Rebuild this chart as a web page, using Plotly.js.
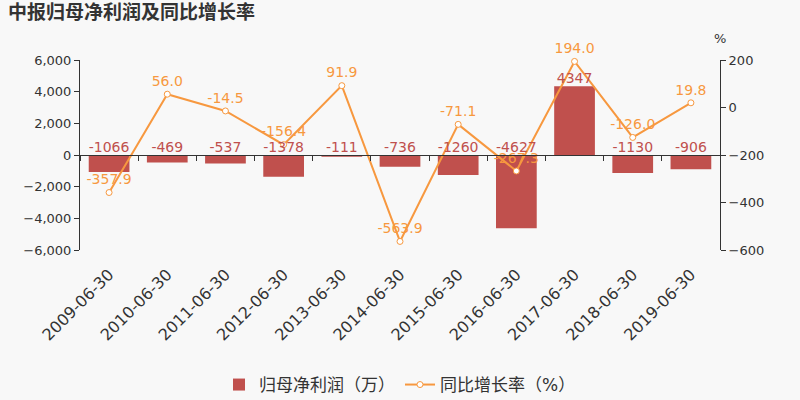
<!DOCTYPE html>
<html>
<head>
<meta charset="utf-8">
<script src="https://cdn.plot.ly/plotly-3.0.1.min.js"></script>
<style>html,body{margin:0;padding:0;background:#f8f8f8;}#chart{width:800px;height:400px;}</style>
</head>
<body>
<div id="chart"></div>
<script>
const categories = ['2009-06-30','2010-06-30','2011-06-30','2012-06-30','2013-06-30','2014-06-30','2015-06-30','2016-06-30','2017-06-30','2018-06-30','2019-06-30'];
const profit = [-1066, -469, -537, -1378, -111, -736, -1260, -4627, 4347, -1130, -906];
const growth = [-357.9, 56.0, -14.5, -156.4, 91.9, -563.9, -71.1, -267.3, 194.0, -126.0, 19.8];
const leftTicks = [-6000, -4000, -2000, 0, 2000, 4000, 6000];
const rightTicks = [-600, -400, -200, 0, 200];

const FONT = 'DejaVu Sans, Noto Sans CJK SC, sans-serif';
const RED = '#c0504d';
const ORANGE = '#f7983f';

const traces = [
  {
    type: 'bar', name: '归母净利润（万）', x: categories, y: profit,
    xaxis: 'x', yaxis: 'y', width: 0.7,
    marker: {color: RED}, hoverinfo: 'x+y'
  },
  {
    type: 'scatter', mode: 'text', x: categories, y: profit.map(v => Math.max(v, 0)),
    xaxis: 'x2', yaxis: 'y', text: profit.map(v => String(v)), textposition: 'top center',
    textfont: {color: RED, size: 14, family: FONT}, showlegend: false, hoverinfo: 'skip',
    cliponaxis: false
  },
  {
    type: 'scatter', mode: 'lines+markers+text', name: '同比增长率（%）', x: categories, y: growth,
    xaxis: 'x', yaxis: 'y2', text: growth.map(v => v.toFixed(1)), textposition: 'top center',
    textfont: {color: ORANGE, size: 14, family: FONT},
    line: {color: ORANGE, width: 2}, cliponaxis: false,
    marker: {symbol: 'circle', size: 6, color: '#ffffff', line: {color: ORANGE, width: 1}}
  }
];

const layout = {
  width: 800, height: 400,
  paper_bgcolor: '#f8f8f8', plot_bgcolor: '#f8f8f8',
  margin: {l: 80, r: 80, t: 60, b: 150},
  font: {family: FONT, color: '#333333', size: 13},
  title: {text: '<b>中报归母净利润及同比增长率</b>', x: 0.01, xanchor: 'left', y: 0.97, yanchor: 'middle',
          font: {size: 19, color: '#333333', family: FONT}},
  showlegend: true,
  legend: {orientation: 'h', x: 0.5, xanchor: 'center', yref: 'container', y: 0.0375, yanchor: 'middle',
           font: {size: 17, color: '#333333', family: FONT}, bgcolor: 'rgba(0,0,0,0)'},
  xaxis: {
    type: 'category', categoryorder: 'array', categoryarray: categories, range: [-0.5, 10.5],
    showline: false, ticks: 'outside', ticklen: 8, tickcolor: 'rgba(0,0,0,0)', tickangle: -45,
    tickfont: {size: 16, color: '#333333'}, automargin: false,
    showgrid: false, zeroline: false, fixedrange: true
  },
  xaxis2: {
    type: 'category', categoryorder: 'array', categoryarray: categories, range: [-0.5, 10.5],
    overlaying: 'x', anchor: 'free', position: 0.5, showticklabels: false, automargin: false,
    showline: true, linecolor: '#333333', linewidth: 1, ticks: 'outside', ticklen: 5, tickcolor: '#333333',
    tickson: 'boundaries', showgrid: false, zeroline: false
  },
  yaxis: {
    range: [-6000, 6000], tickvals: leftTicks, tickformat: ',d', showline: true, linecolor: '#333333',
    ticks: 'outside', ticklen: 5, tickcolor: '#333333', showgrid: false, zeroline: false,
    tickfont: {size: 13, color: '#333333'}, automargin: false
  },
  yaxis2: {
    range: [-600, 200], tickvals: rightTicks, overlaying: 'y', side: 'right', anchor: 'x',
    showline: true, linecolor: '#333333', ticks: 'outside', ticklen: 5, tickcolor: '#333333',
    showgrid: false, zeroline: false, tickfont: {size: 13, color: '#333333'}, automargin: false
  },
  annotations: [
    {text: '%', xref: 'paper', yref: 'paper', x: 1.0, y: 1.0, yshift: 22, xanchor: 'center', yanchor: 'middle',
     showarrow: false, font: {size: 13, color: '#333333'}}
  ]
};

Plotly.newPlot('chart', traces, layout, {displayModeBar: false, staticPlot: true});
</script>
</body>
</html>
